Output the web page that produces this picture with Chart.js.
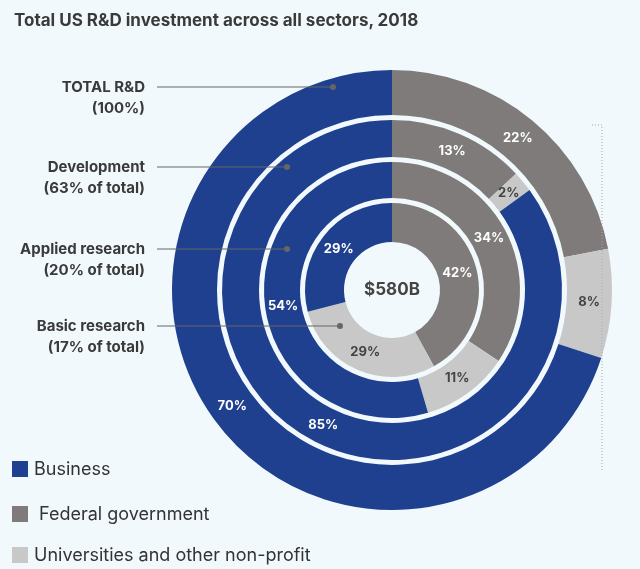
<!DOCTYPE html>
<html>
<head>
<meta charset="utf-8">
<script src="https://cdn.jsdelivr.net/npm/chart.js@4"></script>
<style>
  body { margin: 0; background: #f1f9fc; font-family: "Inter", "Open Sans", sans-serif; }
  #wrap { position: relative; width: 640px; height: 569px; }
  h1 { position: absolute; left: 14px; top: 10px; margin: 0; font-size: 17px; font-weight: 700; color: #3a3a3a; }
  canvas { position: absolute; left: 0; top: 0; }
  .lg { position: absolute; left: 12px; font-size: 18px; color: #333; }
  .lg span { display: inline-block; width: 16px; height: 16px; vertical-align: -2px; margin-right: 6px; }
</style>
</head>
<body>
<div id="wrap">
  <canvas id="rd" width="640" height="569"></canvas>
  <h1>Total US R&amp;D investment across all sectors, 2018</h1>
  <div class="lg" style="top:458px"><span style="background:#1f3f8f"></span>Business</div>
  <div class="lg" style="top:503px"><span style="background:#7f7b7b"></span> Federal government</div>
  <div class="lg" style="top:544px"><span style="background:#c8c8c8"></span>Universities and other non-profit</div>
</div>
<script>
const colors = ['#7f7b7b', '#c8c8c8', '#1f3f8f']; // federal, universities, business
const rings = [
    { name: 'TOTAL R&D', sub: '(100%)', values: [22, 8, 70], weight: 45, ly: 87, lx: 333 },
    { name: 'Development', sub: '(63% of total)', values: [13, 2, 85], weight: 37, ly: 167, lx: 287 },
    { name: 'Applied research', sub: '(20% of total)', values: [34, 11, 54], weight: 36, ly: 249, lx: 287 },
    { name: 'Basic research', sub: '(17% of total)', values: [42, 29, 29], weight: 39, ly: 326, lx: 340 }
];

const datasets = [];
rings.forEach((r, i) => {
    if (i > 0) datasets.push({ data: [1], backgroundColor: ['rgba(0,0,0,0)'], borderWidth: 0, weight: 5, spacer: true });
    datasets.push({ data: r.values, backgroundColor: colors, borderWidth: 0, weight: r.weight });
});

const labelsPlugin = {
    id: 'ringLabels',
    afterDatasetsDraw(chart) {
        const ctx = chart.ctx;
        ctx.save();
        ctx.textAlign = 'center';
        ctx.textBaseline = 'middle';
        ctx.font = 'bold 13px Inter, sans-serif';
        ctx.fillStyle = '#fff';
        chart.data.datasets.forEach((ds, di) => {
            if (ds.spacer) return;
            chart.getDatasetMeta(di).data.forEach((arc, j) => {
                const p = arc.tooltipPosition();
                ctx.fillStyle = j === 1 ? '#444' : '#fff';
                ctx.fillText(ds.data[j] + '%', p.x, p.y);
            });
        });
        // centre
        ctx.fillStyle = '#444';
        ctx.font = 'bold 17px Inter, sans-serif';
        const c = chart.getDatasetMeta(0).data[0];
        ctx.fillText('$580B', c.x, c.y);
        // side labels with leaders
        ctx.textAlign = 'right';
        ctx.font = 'bold 15px Inter, sans-serif';
        ctx.fillStyle = '#3a3a3a';
        rings.forEach(r => {
            ctx.fillText(r.name, 145, r.ly);
            ctx.fillText(r.sub, 145, r.ly + 21);
            ctx.strokeStyle = '#666';
            ctx.lineWidth = 1;
            ctx.beginPath();
            ctx.moveTo(157, r.ly);
            ctx.lineTo(r.lx, r.ly);
            ctx.stroke();
            ctx.fillStyle = '#666';
            ctx.beginPath();
            ctx.arc(r.lx, r.ly, 3, 0, Math.PI * 2);
            ctx.fill();
            ctx.fillStyle = '#3a3a3a';
        });
        // dotted guide on the right
        ctx.strokeStyle = '#aaa';
        ctx.setLineDash([1, 2]);
        ctx.beginPath();
        ctx.moveTo(592, 125);
        ctx.lineTo(602, 125);
        ctx.lineTo(602, 470);
        ctx.stroke();
        ctx.restore();
    }
};

new Chart(document.getElementById('rd').getContext('2d'), {
    type: 'doughnut',
    data: { labels: ['Federal government', 'Universities and other non-profit', 'Business'], datasets: datasets },
    options: {
        responsive: false,
        animation: false,
        cutout: 48,
        layout: { padding: { left: 172, right: 28, top: 70, bottom: 59 } },
        plugins: { legend: { display: false }, tooltip: { enabled: false } }
    },
    plugins: [labelsPlugin]
});
</script>
</body>
</html>
